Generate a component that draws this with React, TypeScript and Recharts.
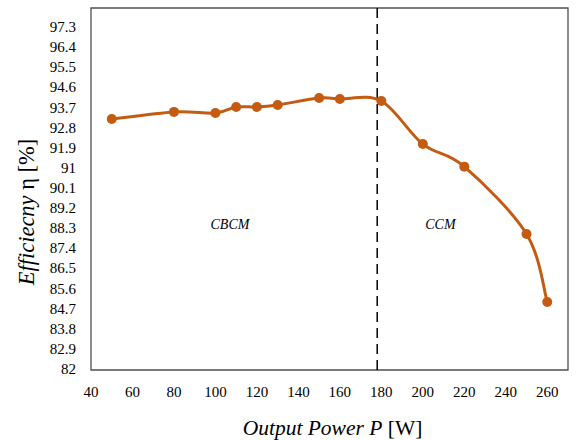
import React from 'react';
import {
  LineChart,
  Line,
  XAxis,
  YAxis,
  ReferenceLine,
  ReferenceArea,
  ReferenceDot,
  Label,
} from 'recharts';

const powerW = [50, 80, 100, 110, 120, 130, 150, 160, 180, 200, 220, 250, 260];
const efficiency = [93.23, 93.55, 93.5, 93.77, 93.77, 93.86, 94.17, 94.13, 94.04, 92.11, 91.1, 88.09, 85.04];
const xTicks = [40, 60, 80, 100, 120, 140, 160, 180, 200, 220, 240, 260];
const yTicks = [82, 82.9, 83.8, 84.7, 85.6, 86.5, 87.4, 88.3, 89.2, 90.1, 91, 91.9, 92.8, 93.7, 94.6, 95.5, 96.4, 97.3];
const modeBoundary = 178;
const modeLabels = [
  { name: 'CBCM', x: 107, y: 88.5 },
  { name: 'CCM', x: 208.5, y: 88.5 },
];

const data = powerW.map((p, i) => ({ p, eff: efficiency[i] }));

const FONT = 'Liberation Serif';
const ORANGE = '#C55A11';

// Excel-like smooth curve (Catmull-Rom style bezier)
function smoothCurve(context: any) {
  let pts: number[][] = [];
  return {
    areaStart() {},
    areaEnd() {},
    lineStart() {
      pts = [];
    },
    point(x: number, y: number) {
      pts.push([+x, +y]);
    },
    lineEnd() {
      if (!pts.length) return;
      context.moveTo(pts[0][0], pts[0][1]);
      for (let i = 0; i < pts.length - 1; i++) {
        const p0 = pts[i - 1] || pts[i];
        const p1 = pts[i];
        const p2 = pts[i + 1];
        const p3 = pts[i + 2] || pts[i + 1];
        const c1x = p1[0] + (p2[0] - p0[0]) / 6;
        const c1y = p1[1] + (p2[1] - p0[1]) / 6;
        const c2x = p2[0] - (p3[0] - p1[0]) / 6;
        const c2y = p2[1] - (p3[1] - p1[1]) / 6;
        context.bezierCurveTo(c1x, c1y, c2x, c2y, p2[0], p2[1]);
      }
    },
  };
}

const XTick = (props: any) => {
  const { x, y, payload } = props;
  return (
    <text x={x} y={y + 12} textAnchor="middle" fontFamily={FONT} fontSize={15} fill="#000">
      {payload.value}
    </text>
  );
};

const YTick = (props: any) => {
  const { x, y, payload } = props;
  return (
    <text x={x} y={y + 4} textAnchor="end" fontFamily={FONT} fontSize={15} fill="#000">
      {payload.value}
    </text>
  );
};

const XTitle = (props: any) => {
  const vb = props.viewBox || {};
  const cx = (vb.x || 0) + (vb.width || 0) / 2;
  return (
    <text x={cx + 3} y={435} textAnchor="middle" fontFamily={FONT} fontSize={21.5} fill="#000">
      <tspan fontStyle="italic">Output Power P</tspan>
      <tspan> [W]</tspan>
    </text>
  );
};

const YTitle = (props: any) => {
  const vb = props.viewBox || {};
  const cy = (vb.y || 0) + (vb.height || 0) / 2;
  const x = 34;
  const y = cy + 23;
  return (
    <text
      x={x}
      y={y}
      textAnchor="middle"
      fontFamily={FONT}
      fontSize={22.5}
      fill="#000"
      transform={`rotate(-90, ${x}, ${y})`}
    >
      <tspan fontStyle="italic">Efficiecny</tspan>
      <tspan> η  [%]</tspan>
    </text>
  );
};

const ModeLabel = (props: any) => {
  const vb = props.viewBox || {};
  const cx = (vb.x || 0) + (vb.width || 0) / 2;
  const cy = (vb.y || 0) + (vb.height || 0) / 2;
  return (
    <text x={cx} y={cy + 4} textAnchor="middle" fontFamily={FONT} fontStyle="italic" fontSize={14} fill="#000">
      {props.value}
    </text>
  );
};

export default function App() {
  return (
    <div style={{ position: 'absolute', left: 0, top: 0, background: '#fff' }}>
      <LineChart width={576} height={440} data={data} margin={{ top: 8, right: 8, bottom: 0, left: 0 }}>
        <XAxis
          dataKey="p"
          type="number"
          domain={[40, 270]}
          ticks={xTicks}
          interval={0}
          axisLine={false}
          tickLine={false}
          tickSize={6}
          tickMargin={9}
          height={70}
          tick={<XTick />}
        >
          <Label content={<XTitle />} />
        </XAxis>
        <YAxis
          type="number"
          domain={[82, 98.2]}
          ticks={yTicks}
          interval={0}
          axisLine={false}
          tickLine={false}
          tickSize={6}
          tickMargin={9}
          width={91}
          tick={<YTick />}
        >
          <Label content={<YTitle />} />
        </YAxis>
        <ReferenceArea x1={40} x2={270} y1={82} y2={98.2} fill="none" stroke="#505050" strokeWidth={1.3} />
        <ReferenceLine x={modeBoundary} stroke="#000" strokeWidth={1.5} strokeDasharray="10 6" />
        {modeLabels.map((m) => (
          <ReferenceDot
            key={m.name}
            x={m.x}
            y={m.y}
            r={0}
            fill="none"
            stroke="none"
            label={<ModeLabel value={m.name} />}
          />
        ))}
        <Line
          dataKey="eff"
          type={smoothCurve as any}
          stroke={ORANGE}
          strokeWidth={3}
          dot={{ r: 5, fill: ORANGE, stroke: ORANGE, strokeWidth: 0 }}
          activeDot={false}
          isAnimationActive={false}
        />
      </LineChart>
    </div>
  );
}
